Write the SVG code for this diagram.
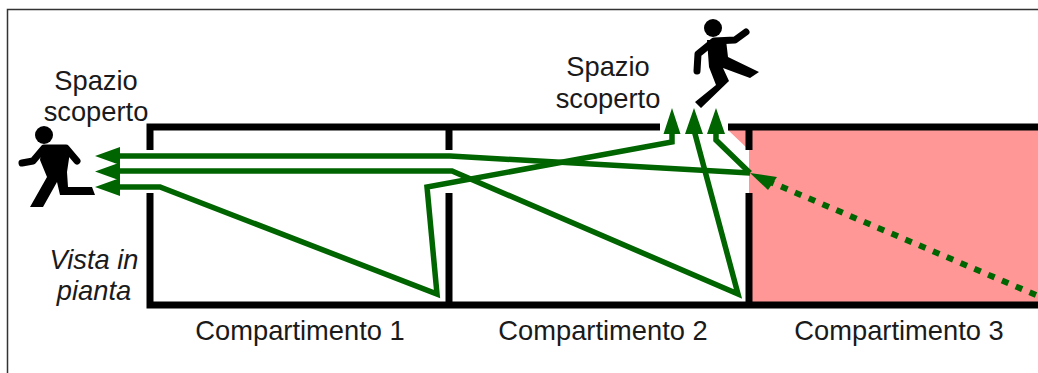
<svg xmlns="http://www.w3.org/2000/svg" width="1038" height="373" viewBox="0 0 1038 373">
<style>
text{font-family:"Liberation Sans",Arial,sans-serif;font-size:27.300px;fill:#1a1a1a;text-anchor:middle}
.wall{fill:none;stroke:#000;stroke-width:7;stroke-linecap:butt;stroke-linejoin:miter}
.route{fill:none;stroke:#006400;stroke-width:5.500;stroke-linejoin:miter}
.dash{stroke-width:6;stroke-dasharray:7 8}
.head{fill:#006400}
.limb{fill:none;stroke:#000;stroke-linecap:round;stroke-linejoin:round}
</style>
<rect width="1038" height="373" fill="#fff"/>
<path d="M7.500 373V9.500H1038" fill="none" stroke="#333" stroke-width="1.500"/>
<g id="compartimento-3-fire">
<path d="M749 130H1038V302H749V150L728 130Z" fill="#ff9797"/>
</g>
<g id="walls">
<path class="wall" d="M150 150V127H660M728 127H1038M150 193V305H1038M449 130V150M449 193V302M749 130V150M749 193V302"/>
</g>
<g id="connectors">
<path class="route" d="M115 156H450L750 173"/>
<path class="route" d="M115 171H452L738 294L694 130"/>
<path class="route" d="M115 187H160L437 294L427 187L672 142V130"/>
<path class="route" d="M716 130V140L750 173"/>
<path class="route dash" d="M1036 295L768 181"/>
<path class="head" d="M95 156L120 147V165ZM95 171.500L120 162.500V180.500ZM95 187L120 178V196Z"/>
<path class="head" d="M672 108L680.500 134H663.500ZM694 108L703 134H685ZM716 108L725 134H707Z"/>
<path class="head" d="M750 173L777 177L768 190Z"/>
</g>
<g id="person-left">
<circle cx="44" cy="135" r="9"/>
<path class="limb" stroke-width="7" d="M22 163L33 161L44 148H66L77 161"/>
<path d="M42 145H66L70 152L67 172L68 187H92L95 195H60L57 182L43 207H30L47 177L40 160Z"/>
</g>
<g id="person-right">
<circle cx="713" cy="28" r="9"/>
<path class="limb" stroke-width="7" d="M697 71L698 54L714 41L735 40L746 32"/>
<path d="M707 40H726L728 57L759 72L750 78L723 68L729 81L701 108L695 102L716 85L709 67Z"/>
</g>
<g id="labels">
<text x="96" y="90">Spazio</text>
<text x="96" y="121">scoperto</text>
<text x="608" y="76">Spazio</text>
<text x="608" y="108">scoperto</text>
<text x="94" y="269" font-style="italic">Vista in</text>
<text x="94" y="300" font-style="italic">pianta</text>
<text x="300" y="340">Compartimento 1</text>
<text x="603" y="340">Compartimento 2</text>
<text x="899" y="340">Compartimento 3</text>
</g>
</svg>
